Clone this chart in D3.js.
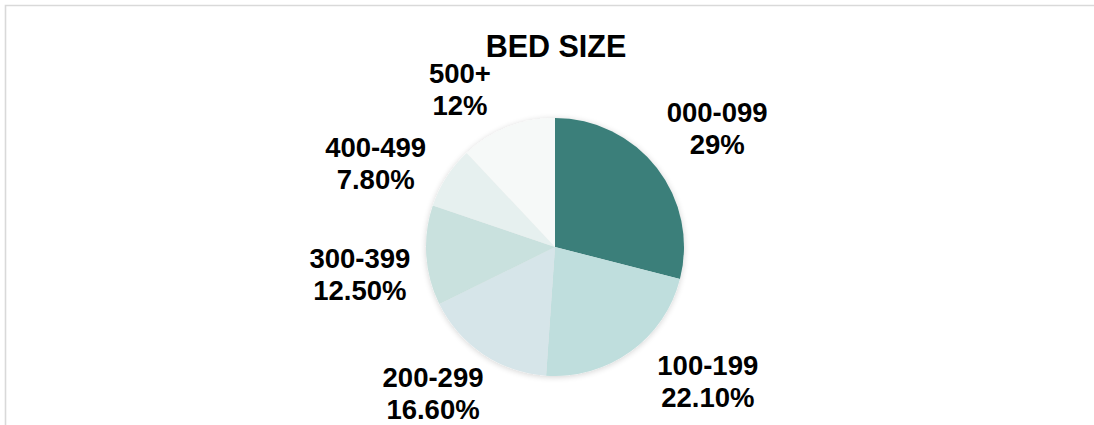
<!DOCTYPE html>
<html>
<head>
<meta charset="utf-8">
<script src="https://cdn.jsdelivr.net/npm/d3@7/dist/d3.min.js"></script>
<style>
  html, body { margin: 0; padding: 0; background: #fff; overflow: hidden; }
  svg { display: block; overflow: hidden; }
  text { font-family: "Liberation Sans", Arial, sans-serif; font-weight: bold; fill: #000; }
</style>
</head>
<body>
<svg id="chart" width="1094" height="425"></svg>
<script>
// ---- data ----
const categories = ["000-099", "100-199", "200-299", "300-399", "400-499", "500+"];
const values = [29, 22.1, 16.6, 12.5, 7.8, 12];
const valueLabels = ["29%", "22.10%", "16.60%", "12.50%", "7.80%", "12%"];
const colors = ["#3b7f7a", "#bfdedd", "#d6e5e9", "#c9e1de", "#e6f0ef", "#f6f9f8"];
const title = "BED SIZE";

// ---- layout ----
const W = 1094, H = 425;
const cx = 555, cy = 247, R = 129;
const labelR = 197;
// label placement tweaks (degrees, px) mimicking Excel collision adjustment
const labelAngleShift = [1.6, -13, 6.1, -4.2, -7.7, -9.5];
const labelRadiusShift = [4, 6, -7, 0, 1, -13];
const fontSize = 27.5, lineGap = 32;

const svg = d3.select("#chart");

// frame (top and left edges only visible, as in the reference)
svg.append("path")
  .attr("d", `M5.5,${H + 10}V5.5H${W + 10}`)
  .attr("fill", "none").attr("stroke", "#d9d9d9").attr("stroke-width", 1.6);

// shadow filter
const defs = svg.append("defs");
const f = defs.append("filter").attr("id", "sh").attr("x", "-20%").attr("y", "-20%").attr("width", "140%").attr("height", "140%");
f.append("feGaussianBlur").attr("in", "SourceAlpha").attr("stdDeviation", 3).attr("result", "b");
f.append("feOffset").attr("in", "b").attr("dx", 0).attr("dy", 1).attr("result", "o");
f.append("feComponentTransfer").attr("in", "o").attr("result", "c")
  .append("feFuncA").attr("type", "linear").attr("slope", 0.18);
const m = f.append("feMerge");
m.append("feMergeNode").attr("in", "c");
m.append("feMergeNode").attr("in", "SourceGraphic");

// title
svg.append("text")
  .attr("x", 556).attr("y", 57)
  .attr("text-anchor", "middle")
  .style("font-size", "30.5px")
  .text(title);

const pie = d3.pie().sort(null).value(d => d)(values);
const arc = d3.arc().innerRadius(0).outerRadius(R);

const g = svg.append("g").attr("transform", `translate(${cx},${cy})`);
g.append("g").attr("filter", "url(#sh)")
  .selectAll("path").data(pie).join("path")
  .attr("d", arc)
  .attr("fill", (d, i) => colors[i]);

// labels
const lab = g.selectAll("text.lbl").data(pie).join("text")
  .attr("class", "lbl")
  .attr("text-anchor", "middle")
  .style("font-size", fontSize + "px")
  .attr("transform", (d, i) => {
    const a = (d.startAngle + d.endAngle) / 2 + labelAngleShift[i] * Math.PI / 180;
    const r = labelR + labelRadiusShift[i];
    const x = Math.sin(a) * r, y = -Math.cos(a) * r;
    return `translate(${x},${y})`;
  });
lab.append("tspan").attr("x", 0).attr("y", -lineGap / 2 + fontSize * 0.36).text((d, i) => categories[i]);
lab.append("tspan").attr("x", 0).attr("y", lineGap / 2 + fontSize * 0.36).text((d, i) => valueLabels[i]);
</script>
</body>
</html>
